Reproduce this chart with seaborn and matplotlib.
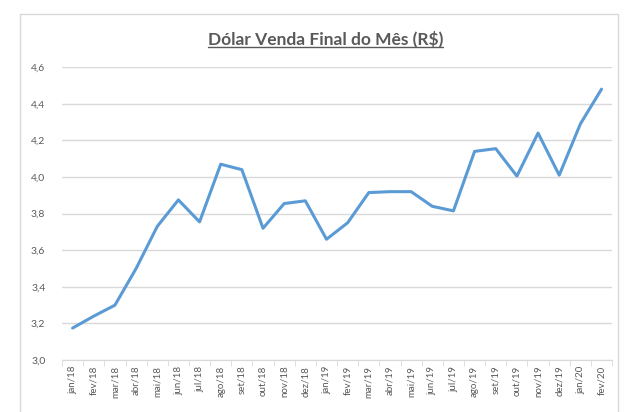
import numpy as np
import pandas as pd
import seaborn as sns
import matplotlib.pyplot as plt
from matplotlib.patches import Rectangle

meses = ["jan/18", "fev/18", "mar/18", "abr/18", "mai/18", "jun/18", "jul/18",
         "ago/18", "set/18", "out/18", "nov/18", "dez/18", "jan/19", "fev/19",
         "mar/19", "abr/19", "mai/19", "jun/19", "jul/19", "ago/19", "set/19",
         "out/19", "nov/19", "dez/19", "jan/20", "fev/20"]
dolar = [3.175, 3.24, 3.30, 3.50, 3.73, 3.875, 3.755, 4.07, 4.04, 3.72,
         3.855, 3.87, 3.66, 3.75, 3.915, 3.92, 3.92, 3.84, 3.815, 4.14,
         4.155, 4.005, 4.24, 4.01, 4.29, 4.48]
y_ticks = [3.0, 3.2, 3.4, 3.6, 3.8, 4.0, 4.2, 4.4, 4.6]

df = pd.DataFrame({"pos": np.arange(len(meses)), "mes": meses, "dolar": dolar})

sns.set_style("white")
plt.rcParams["font.family"] = ["Lato", "DejaVu Sans"]

fig = plt.figure(figsize=(6.33, 4.12), dpi=100)
ax = fig.add_axes([0.098, 0.126, 0.869, 0.711])

# moldura do gráfico (estilo Excel)
fig.patches.append(Rectangle((20 / 633, -0.01), 598 / 633, 1 - 14 / 412 + 0.01,
                             transform=fig.transFigure, fill=False,
                             edgecolor="#d9d9d9", linewidth=1.0))

sns.lineplot(data=df, x="pos", y="dolar", ax=ax, color="#5b9bd5", linewidth=2.2)

ax.set_xlim(-0.5, len(meses) - 0.5)
ax.set_ylim(3.0, 4.6)
ax.set_yticks(y_ticks)
ax.set_yticklabels([f"{v:.1f}".replace(".", ",") for v in y_ticks])
ax.set_xticks(df["pos"])
ax.set_xticklabels(meses, rotation=90)
ax.set_xticks(np.arange(len(meses) + 1) - 0.5, minor=True)

ax.grid(axis="y", color="#d9d9d9", linewidth=1.0)
for s in ["top", "right", "left"]:
    ax.spines[s].set_visible(False)
ax.spines["bottom"].set_color("#d9d9d9")
ax.tick_params(axis="x", which="major", length=0, labelsize=7, colors="#595959", pad=4)
ax.tick_params(axis="x", which="minor", length=4, color="#d9d9d9", bottom=True)
ax.tick_params(axis="y", length=0, labelsize=7.5, colors="#595959", pad=12)
ax.set_xlabel("")
ax.set_ylabel("")

title = fig.text(0.514, 0.905, "Dólar Venda Final do Mês (R$)", ha="center", va="center",
                 fontsize=12.5, fontweight="bold", color="#595959")
fig.canvas.draw()
bb = title.get_window_extent().transformed(fig.transFigure.inverted())
fig.add_artist(plt.Line2D([bb.x0, bb.x1], [1 - 47 / 412, 1 - 47 / 412],
                          color="#595959", linewidth=1.0))

fig.savefig("out.png", dpi=100)
